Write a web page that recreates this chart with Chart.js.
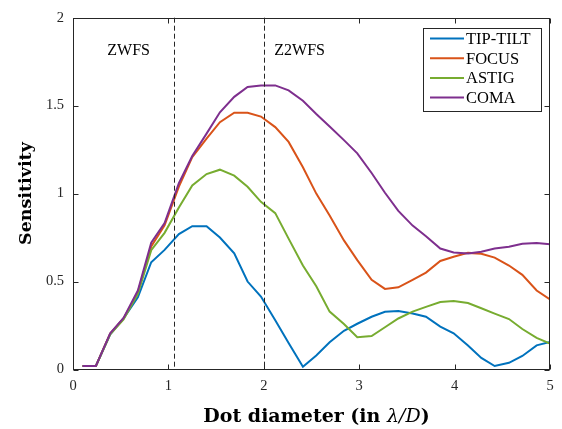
<!DOCTYPE html>
<html lang="en">
<head>
    <meta charset="UTF-8">
    <title>Sensitivity vs dot diameter</title>
    <script src="https://cdn.jsdelivr.net/npm/chart.js@4.4.0/dist/chart.umd.min.js"></script>
    <style>
        body { margin: 0; background: #fff; }
        #wrap { width: 562px; height: 429px; }
    </style>
</head>
<body>
    <div id="wrap"><canvas id="sens"></canvas></div>
    <script>
        // dot diameter, in lambda/D
        const dotDiam = [0.10, 0.24, 0.39, 0.53, 0.68, 0.82, 0.96, 1.11, 1.25, 1.40, 1.54, 1.69,
            1.83, 1.97, 2.12, 2.26, 2.41, 2.55, 2.69, 2.84, 2.98, 3.13, 3.27, 3.41, 3.56, 3.70,
            3.85, 3.99, 4.14, 4.28, 4.42, 4.57, 4.71, 4.86, 5.00];

        const tipTilt = [0.02, 0.02, 0.20, 0.29, 0.41, 0.61, 0.68, 0.77, 0.815, 0.815, 0.75, 0.66,
            0.50, 0.415, 0.28, 0.15, 0.016, 0.08, 0.155, 0.22, 0.26, 0.30, 0.328, 0.333, 0.318, 0.30,
            0.244, 0.206, 0.137, 0.066, 0.02, 0.038, 0.077, 0.137, 0.156];
        const focus = [0.02, 0.02, 0.205, 0.29, 0.44, 0.70, 0.82, 1.04, 1.207, 1.313, 1.406, 1.46,
            1.46, 1.438, 1.378, 1.294, 1.15, 1.0, 0.875, 0.734, 0.622, 0.51, 0.458, 0.467, 0.51, 0.551,
            0.617, 0.641, 0.663, 0.658, 0.636, 0.591, 0.538, 0.449, 0.398];
        const astig = [0.02, 0.02, 0.20, 0.285, 0.43, 0.678, 0.777, 0.921, 1.046, 1.111, 1.136, 1.102,
            1.039, 0.953, 0.889, 0.744, 0.591, 0.473, 0.329, 0.259, 0.184, 0.19, 0.24, 0.29, 0.329, 0.356,
            0.384, 0.39, 0.378, 0.348, 0.318, 0.287, 0.23, 0.18, 0.147];
        const coma = [0.02, 0.02, 0.206, 0.293, 0.449, 0.721, 0.833, 1.06, 1.214, 1.341, 1.462, 1.55,
            1.606, 1.615, 1.615, 1.587, 1.528, 1.453, 1.382, 1.304, 1.229, 1.117, 1.005, 0.902, 0.818, 0.757,
            0.688, 0.665, 0.66, 0.669, 0.688, 0.698, 0.715, 0.719, 0.712];

        const seriesNames = ['TIP-TILT', 'FOCUS', 'ASTIG', 'COMA'];
        const seriesColors = ['#0072BD', '#D95319', '#77AC30', '#7E2F8E'];

        // vertical dashed separators and the region names
        const dividers = [1.06, 2.0];
        const regionNames = ['ZWFS', 'Z2WFS'];
        const regionX = [0.36, 2.11];
        const regionY = 1.81;

        const xTicks = [0, 1, 2, 3, 4, 5];
        const yTicks = [0, 0.5, 1, 1.5, 2];

        const ink = '#262626';
        const serif = '"Liberation Serif", serif';

        function toPoints(ys) {
            return dotDiam.map((d, i) => ({ x: d, y: ys[i] }));
        }

        const decor = {
            id: 'decor',
            afterDatasetsDraw(chart) {
                const { ctx, chartArea: a, scales: { x, y } } = chart;
                ctx.save();

                // dashed lines
                ctx.strokeStyle = ink;
                ctx.lineWidth = 1;
                ctx.setLineDash([5, 3]);
                dividers.forEach(v => {
                    const px = Math.round(x.getPixelForValue(v)) + 0.5;
                    ctx.beginPath();
                    ctx.moveTo(px, a.top);
                    ctx.lineTo(px, a.bottom);
                    ctx.stroke();
                });
                ctx.setLineDash([]);

                // region labels
                ctx.fillStyle = '#000';
                ctx.font = '16px ' + serif;
                ctx.textAlign = 'left';
                ctx.textBaseline = 'middle';
                regionNames.forEach((t, i) => {
                    ctx.fillText(t, x.getPixelForValue(regionX[i]), y.getPixelForValue(regionY));
                });

                // axes box + inward ticks
                const L = Math.round(a.left) + 0.5, R = Math.round(a.right) - 0.5;
                const T = Math.round(a.top) + 0.5, B = Math.round(a.bottom) - 0.5;
                ctx.strokeStyle = ink;
                ctx.strokeRect(L, T, R - L, B - T);
                ctx.beginPath();
                xTicks.forEach(v => {
                    const px = Math.round(x.getPixelForValue(v)) + 0.5;
                    ctx.moveTo(px, B); ctx.lineTo(px, B - 5);
                    ctx.moveTo(px, T); ctx.lineTo(px, T + 5);
                });
                yTicks.forEach(v => {
                    const py = Math.round(y.getPixelForValue(v)) + 0.5;
                    ctx.moveTo(L, py); ctx.lineTo(L + 5, py);
                    ctx.moveTo(R, py); ctx.lineTo(R - 5, py);
                });
                ctx.stroke();

                // legend
                const bw = 118, bh = 83;
                const bx = Math.round(a.right - 127.5) + 0.5, by = Math.round(a.top + 10.5) + 0.5;
                ctx.fillStyle = '#fff';
                ctx.fillRect(bx, by, bw, bh);
                ctx.strokeStyle = ink;
                ctx.strokeRect(bx, by, bw, bh);
                ctx.font = '16.5px ' + serif;
                ctx.textBaseline = 'middle';
                chart.data.datasets.forEach((ds, i) => {
                    const ry = by + 10 + i * 19.7;
                    ctx.strokeStyle = ds.borderColor;
                    ctx.lineWidth = 2;
                    ctx.beginPath();
                    ctx.moveTo(bx + 6.5, ry);
                    ctx.lineTo(bx + 40.5, ry);
                    ctx.stroke();
                    ctx.fillStyle = '#000';
                    ctx.fillText(ds.label, bx + 42.5, ry + 1);
                });

                // axis titles
                ctx.fillStyle = '#000';
                ctx.textBaseline = 'alphabetic';
                const boldF = 'bold 19px "DejaVu Serif", serif';
                const italF = 'italic 19px "DejaVu Serif", serif';
                const parts = [['Dot diameter (in ', boldF], ['\u03bb/D', italF], [')', boldF]];
                let total = 0;
                parts.forEach(p => { ctx.font = p[1]; total += ctx.measureText(p[0]).width; });
                let cx = (a.left + a.right) / 2 + 5 - total / 2;
                parts.forEach(p => {
                    ctx.font = p[1];
                    ctx.fillText(p[0], cx, 422);
                    cx += ctx.measureText(p[0]).width;
                });

                ctx.translate(31, (a.top + a.bottom) / 2);
                ctx.rotate(-Math.PI / 2);
                ctx.textAlign = 'center';
                ctx.font = 'bold 17.5px "DejaVu Serif", serif';
                ctx.fillText('Sensitivity', 0, 0);

                ctx.restore();
            }
        };

        const datasets = [tipTilt, focus, astig, coma].map((ys, i) => ({
            label: seriesNames[i],
            data: toPoints(ys),
            borderColor: seriesColors[i],
            backgroundColor: seriesColors[i],
            borderWidth: 2,
            pointRadius: 0,
            tension: 0,
            fill: false,
            order: 4 - i
        }));

        new Chart(document.getElementById('sens'), {
            type: 'line',
            data: { datasets },
            options: {
                responsive: true,
                maintainAspectRatio: false,
                animation: false,
                events: [],
                layout: { padding: { top: 12.5, right: 12, left: 0, bottom: 0 } },
                plugins: {
                    legend: { display: false },
                    tooltip: { enabled: false }
                },
                scales: {
                    x: {
                        type: 'linear',
                        min: 0,
                        max: 5,
                        grid: { display: false, drawTicks: false },
                        border: { display: false },
                        ticks: {
                            stepSize: 1,
                            padding: 8,
                            maxRotation: 0,
                            autoSkip: false,
                            color: ink,
                            font: { family: 'Liberation Serif', size: 14.5 }
                        },
                        afterFit(s) { s.height = 59.5; }
                    },
                    y: {
                        min: 0,
                        max: 2,
                        grid: { display: false, drawTicks: false },
                        border: { display: false },
                        ticks: {
                            stepSize: 0.5,
                            padding: 9,
                            color: ink,
                            font: { family: 'Liberation Serif', size: 14.5 },
                            callback: v => String(v)
                        },
                        afterFit(s) { s.width = 73; }
                    }
                }
            },
            plugins: [decor]
        });
    </script>
</body>
</html>
